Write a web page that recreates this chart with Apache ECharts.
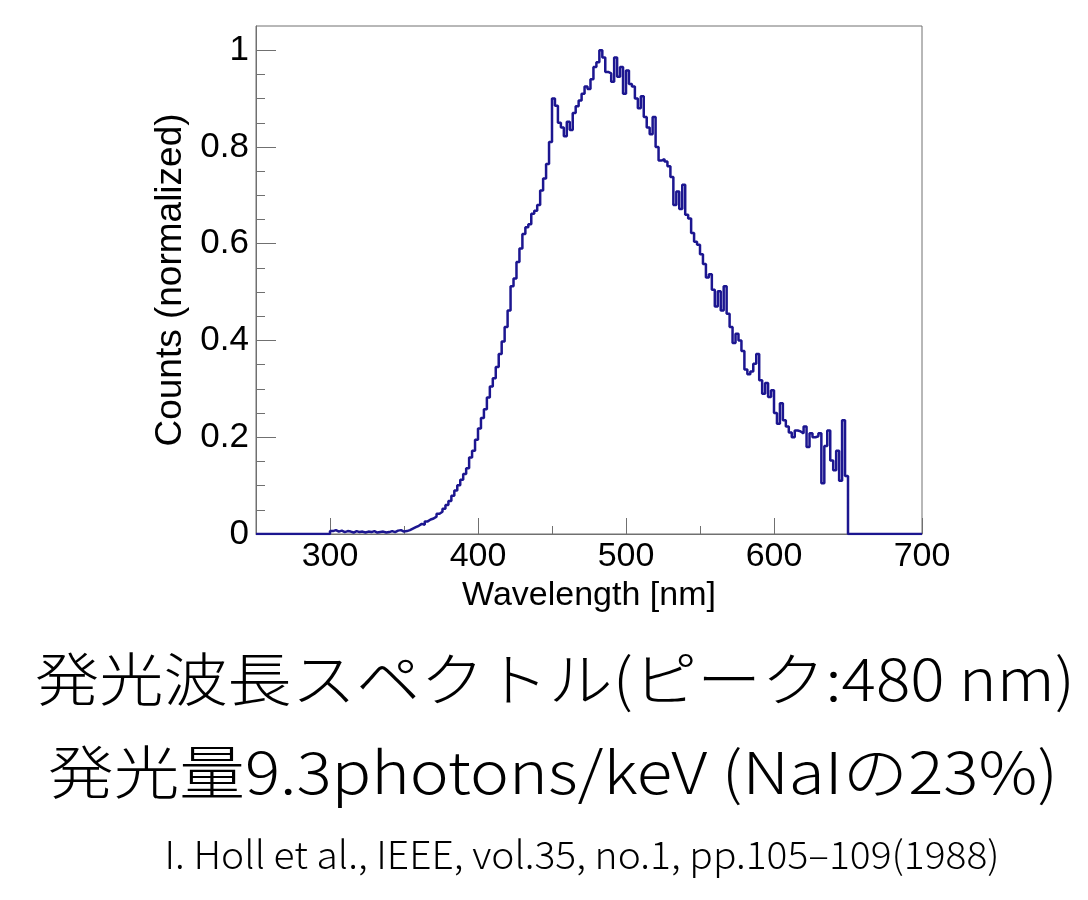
<!DOCTYPE html>
<html>
<head>
<meta charset="utf-8">
<script src="https://cdn.jsdelivr.net/npm/echarts@6/dist/echarts.min.js"></script>
<style>
  html, body { margin: 0; padding: 0; background: #fff; }
  #chart { width: 1088px; height: 900px; }
</style>
</head>
<body>
<div id="chart"></div>
<script>
// 発光スペクトル (histogram, 2 nm bins from 300 nm)
const binStart = 300;
const binWidth = 2;
const counts = [
  0.006, 0.008, 0.005, 0.007, 0.004, 0.006, 0.005, 0.003, 0.006, 0.004,
  0.005, 0.003, 0.005, 0.004, 0.006, 0.003, 0.004, 0.005, 0.003, 0.004,
  0.006, 0.004, 0.007, 0.008, 0.005,
  0.006, 0.008, 0.011, 0.014, 0.017, 0.021, 0.019, 0.026, 0.030, 0.032,
  0.036, 0.042, 0.046, 0.052, 0.060, 0.068, 0.079, 0.090, 0.101, 0.112,
  0.124, 0.136, 0.158, 0.172, 0.195,
  0.218, 0.240, 0.258, 0.282, 0.305, 0.322, 0.345, 0.372, 0.398, 0.428,
  0.462, 0.512, 0.528, 0.562, 0.590, 0.620, 0.634, 0.640, 0.662, 0.668,
  0.680, 0.710, 0.735, 0.765, 0.810,
  0.900, 0.885, 0.850, 0.840, 0.822, 0.852, 0.835, 0.870, 0.884, 0.896,
  0.910, 0.925, 0.920, 0.940, 0.965, 0.975, 1.000, 0.985, 0.955, 0.952,
  0.935, 0.985, 0.945, 0.965, 0.910,
  0.958, 0.930, 0.925, 0.900, 0.880, 0.905, 0.862, 0.840, 0.826, 0.862,
  0.800, 0.772, 0.775, 0.770, 0.760, 0.738, 0.680, 0.708, 0.672, 0.722,
  0.660, 0.652, 0.622, 0.604, 0.598,
  0.578, 0.558, 0.530, 0.537, 0.505, 0.470, 0.502, 0.462, 0.512, 0.455,
  0.428, 0.395, 0.414, 0.400, 0.378, 0.340, 0.330, 0.336, 0.352, 0.372,
  0.318, 0.290, 0.312, 0.283, 0.297,
  0.250, 0.228, 0.270, 0.235, 0.222, 0.210, 0.200, 0.214, 0.212, 0.208,
  0.222, 0.180, 0.208, 0.200, 0.202, 0.208, 0.105, 0.182, 0.214, 0.152,
  0.132, 0.172, 0.110, 0.235, 0.120
];
const xRange = [250, 700];
const yRange = [0, 1.05];
const xMajorTicks = [300, 400, 500, 600, 700];
const xMinorTicks = [350, 450, 550, 650];
const yMajorTicks = [0, 0.2, 0.4, 0.6, 0.8, 1];
const yMinorTicks = [0.05, 0.1, 0.15, 0.25, 0.3, 0.35, 0.45, 0.5, 0.55,
  0.65, 0.7, 0.75, 0.85, 0.9, 0.95];
const captions = [
  '発光波長スペクトル(ピーク:480 nm)',
  '発光量9.3photons/keV (NaIの23%)',
  'I. Holl et al., IEEE, vol.35, no.1, pp.105\u2013109(1988)'
];

const frameColor = '#707070';
const lineColor = '#1c1690';
const axisFont = 'Liberation Sans';
const capFont = '"Noto Sans CJK JP"';

// histogram edges -> step points
const points = [[xRange[0], 0]];
counts.forEach((v, i) => points.push([binStart + i * binWidth, v]));
points.push([binStart + counts.length * binWidth, 0]);
points.push([xRange[1], 0]);

// fit caption widths to the picture
const measure = document.createElement('canvas').getContext('2d');
function caption(text, cx, cy, size, width) {
  const font = '300 ' + size + 'px ' + capFont;
  measure.font = font;
  const w = measure.measureText(text).width;
  return {
    type: 'text',
    x: cx,
    y: cy,
    scaleX: width / w,
    style: {
      text,
      font,
      fill: '#000',
      textAlign: 'center',
      textVerticalAlign: 'middle',
    },
  };
}

const chart = echarts.init(document.getElementById('chart'));
chart.setOption({
  animation: false,
  backgroundColor: '#fff',
  grid: {
    left: 256,
    top: 26,
    width: 666,
    height: 508,
    show: true,
    borderColor: frameColor,
    borderWidth: 1,
  },
  xAxis: [
    {
      type: 'value',
      min: xRange[0],
      max: xRange[1],
      name: 'Wavelength [nm]',
      nameLocation: 'middle',
      nameGap: 41,
      nameTextStyle: { fontFamily: axisFont, fontSize: 34, color: '#000' },
      axisLine: { show: true, lineStyle: { color: frameColor, width: 1 } },
      axisTick: {
        inside: true,
        length: 16,
        customValues: xMajorTicks,
        lineStyle: { color: frameColor },
      },
      axisLabel: {
        customValues: xMajorTicks,
        margin: 6,
        fontFamily: axisFont,
        fontSize: 34,
        color: '#000',
      },
      splitLine: { show: false },
    },
    {
      type: 'value',
      position: 'bottom',
      min: xRange[0],
      max: xRange[1],
      axisLine: { show: false },
      axisTick: {
        inside: true,
        length: 8,
        customValues: xMinorTicks,
        lineStyle: { color: frameColor },
      },
      axisLabel: { show: false },
      splitLine: { show: false },
    },
  ],
  yAxis: [
    {
      type: 'value',
      min: yRange[0],
      max: yRange[1],
      name: 'Counts (normalized)',
      nameLocation: 'middle',
      nameGap: 67,
      nameTextStyle: { fontFamily: axisFont, fontSize: 37, color: '#000' },
      axisLine: { show: true, lineStyle: { color: frameColor, width: 1 } },
      axisTick: {
        inside: true,
        length: 20,
        customValues: yMajorTicks,
        lineStyle: { color: frameColor },
      },
      axisLabel: {
        customValues: yMajorTicks,
        margin: 7,
        fontFamily: axisFont,
        fontSize: 35,
        color: '#000',
      },
      splitLine: { show: false },
    },
    {
      type: 'value',
      position: 'left',
      min: yRange[0],
      max: yRange[1],
      axisLine: { show: false },
      axisTick: {
        inside: true,
        length: 9,
        customValues: yMinorTicks,
        lineStyle: { color: frameColor },
      },
      axisLabel: { show: false },
      splitLine: { show: false },
    },
  ],
  series: [
    {
      type: 'line',
      step: 'end',
      data: points,
      symbol: 'none',
      lineStyle: { color: lineColor, width: 2.5 },
    },
  ],
  graphic: [
    caption(captions[0], 555, 679, 58, 1040),
    caption(captions[1], 553, 772, 58, 1010),
    caption(captions[2], 582, 855, 38, 835),
  ],
});
</script>
</body>
</html>
